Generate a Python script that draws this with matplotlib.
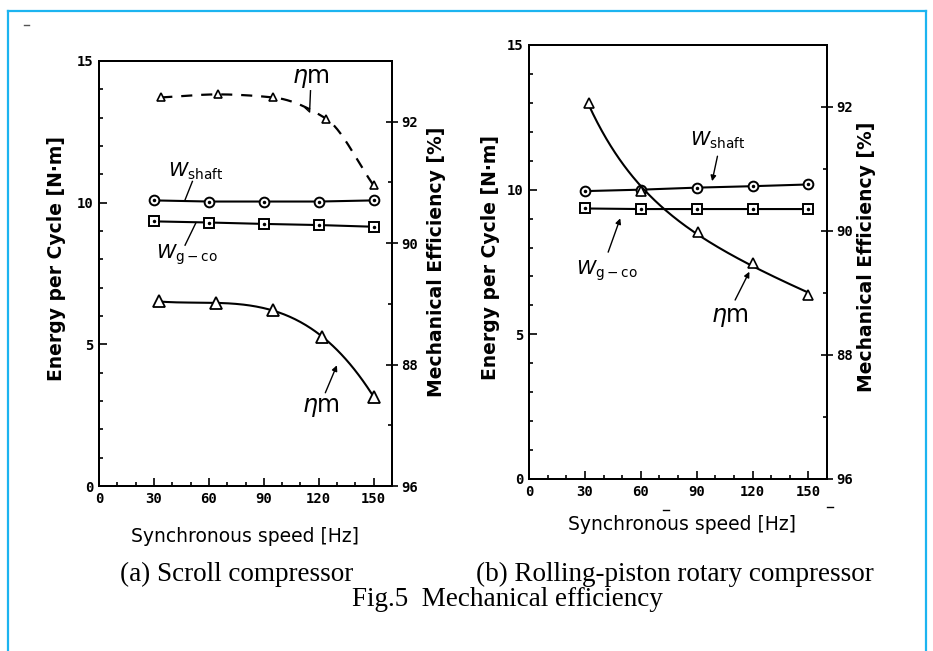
import numpy as np
import matplotlib
matplotlib.use("Agg")
import matplotlib.pyplot as plt
from matplotlib.lines import Line2D
from matplotlib.font_manager import FontProperties
from matplotlib.ticker import MultipleLocator, FixedLocator, FixedFormatter

# synchronous speed [Hz]
speed = [30, 60, 90, 120, 150]

# (a) scroll compressor
a_w_shaft = [10.08, 10.04, 10.04, 10.04, 10.08]
a_w_gco = [9.34, 9.30, 9.25, 9.21, 9.15]
a_eta_speed = [33, 64, 95, 122, 150]
a_eta = [89.04, 89.01, 88.90, 88.45, 87.47]
a_eta_dash_speed = [34, 65, 95, 124, 150]
a_eta_dash = [92.40, 92.45, 92.40, 92.05, 90.95]

# (b) rolling-piston rotary compressor
b_w_shaft = [9.95, 10.00, 10.07, 10.12, 10.18]
b_w_gco = [9.35, 9.33, 9.33, 9.33, 9.33]
b_eta_speed = [32, 60, 91, 120, 150]
b_eta = [92.06, 90.65, 89.98, 89.49, 88.96]

x_ticks = [0, 30, 60, 90, 120, 150]
eff_ticks = [86, 88, 90, 92]
eff_labels = ['96', '88', '90', '92']   # as printed in the scan

W, H = 933, 651
fig = plt.figure(figsize=(W / 100, H / 100), dpi=100)

tick_font = FontProperties(family='DejaVu Sans Mono', weight='bold', size=10)
lab_font = dict(family='DejaVu Sans', weight='bold', size=13.5)


def px(x, y):
    return x / W, 1 - y / H


def make_axes(x0, y0, x1, y1):
    ax = fig.add_axes([x0 / W, 1 - y1 / H, (x1 - x0) / W, (y1 - y0) / H])
    axr = ax.twinx()
    ax.set_xlim(0, 160)
    ax.set_ylim(0, 15)
    axr.set_ylim(86, 93)
    ax.xaxis.set_major_locator(FixedLocator(x_ticks))
    ax.xaxis.set_minor_locator(MultipleLocator(10))
    ax.yaxis.set_major_locator(MultipleLocator(5))
    ax.yaxis.set_minor_locator(MultipleLocator(1))
    axr.yaxis.set_major_locator(FixedLocator(eff_ticks))
    axr.yaxis.set_major_formatter(FixedFormatter(eff_labels))
    axr.yaxis.set_minor_locator(MultipleLocator(1))
    for a in (ax, axr):
        a.tick_params(which='both', direction='in', width=1.2, top=False)
        a.tick_params(which='major', length=6, pad=4)
        a.tick_params(which='minor', length=3)
        for s in a.spines.values():
            s.set_linewidth(1.4)
        for lbl in a.get_xticklabels() + a.get_yticklabels():
            lbl.set_fontproperties(tick_font)
    axr.tick_params(which='major', direction='inout', length=9, pad=2)
    ax.tick_params(axis='y', which='both', right=False)
    return ax, axr


def fitcurve(x, y, deg=3, n=200):
    # smooth drawn curve through the measured points
    xs = np.linspace(min(x), max(x), n)
    return xs, np.polyval(np.polyfit(x, y, deg), xs)


def decay_fit(x, y, tau=30.0, n=200):
    # convex smooth curve: a + b*x + c*exp(-x/tau), least squares
    x = np.asarray(x, float)
    A = np.column_stack([np.ones_like(x), x, np.exp(-x / tau)])
    coef = np.linalg.lstsq(A, np.asarray(y, float), rcond=None)[0]
    xs = np.linspace(x.min(), x.max(), n)
    return xs, coef[0] + coef[1] * xs + coef[2] * np.exp(-xs / tau)


def pchip(x, y, n=200):
    # monotone cubic through the measured points, only for drawing the curve
    x = np.asarray(x, float)
    y = np.asarray(y, float)
    h = np.diff(x)
    d = np.diff(y) / h
    m = np.zeros_like(y)
    m[0], m[-1] = d[0], d[-1]
    for k in range(1, len(x) - 1):
        if d[k - 1] * d[k] > 0:
            w1 = 2 * h[k] + h[k - 1]
            w2 = h[k] + 2 * h[k - 1]
            m[k] = (w1 + w2) / (w1 / d[k - 1] + w2 / d[k])
    xs = np.linspace(x[0], x[-1], n)
    i = np.clip(np.searchsorted(x, xs) - 1, 0, len(x) - 2)
    t = (xs - x[i]) / h[i]
    ys = ((2 * t**3 - 3 * t**2 + 1) * y[i] + (t**3 - 2 * t**2 + t) * h[i] * m[i]
          + (-2 * t**3 + 3 * t**2) * y[i + 1] + (t**3 - t**2) * h[i] * m[i + 1])
    return xs, ys


def energy_lines(ax, shaft, gco):
    ax.plot(speed, shaft, '-', color='black', lw=1.5, marker='o', ms=7,
            mfc='white', mec='black', mew=1.4, zorder=3)
    ax.plot(speed, shaft, '.', color='black', ms=3, zorder=4)
    ax.plot(speed, gco, '-', color='black', lw=1.5, marker='s', ms=7,
            mfc='white', mec='black', mew=1.4, zorder=3)
    ax.plot(speed, gco, '.', color='black', ms=3, zorder=4)


arrow = dict(arrowstyle='-|>', color='black', lw=1, mutation_scale=8)

# ---------- (a) scroll compressor ----------
ax, axr = make_axes(99, 61, 392, 486)
energy_lines(ax, a_w_shaft, a_w_gco)
xs, ys = fitcurve(a_eta_speed, a_eta)
axr.plot(xs, ys, '-', color='black', lw=1.5)
axr.plot(a_eta_speed, a_eta, '^', ms=8, mfc='white', mec='black', mew=1.3)
xs, ys = pchip(a_eta_dash_speed, a_eta_dash)
axr.plot(xs, ys, '--', color='black', lw=1.6, dashes=(5, 4))
axr.plot(a_eta_dash_speed, a_eta_dash, '^', ms=6, mfc='white', mec='black', mew=1.2)

ax.text(53, 11.1, r'$W_{\mathrm{shaft}}$', fontsize=14, ha='center', va='center')
ax.plot([51, 47], [10.75, 10.1], color='black', lw=1)
ax.text(48, 8.15, r'$W_{\mathrm{g-co}}$', fontsize=14, ha='center', va='center')
ax.plot([47, 53], [8.5, 9.3], color='black', lw=1)
ax.text(116, 14.4, r'$\eta\mathrm{m}$', fontsize=17, ha='center', va='center')
ax.plot([115.5, 115, 112.5], [13.95, 13.2, 13.35], color='black', lw=1)
ax.text(121, 2.8, r'$\eta\mathrm{m}$', fontsize=17, ha='center', va='center')
ax.annotate('', xy=(130.5, 4.35), xytext=(123, 3.2), arrowprops=arrow)

# ---------- (b) rolling-piston rotary compressor ----------
bx, bxr = make_axes(529, 45, 827, 479)
energy_lines(bx, b_w_shaft, b_w_gco)
xs, ys = decay_fit(b_eta_speed, b_eta)
bxr.plot(xs, ys, '-', color='black', lw=1.5)
bxr.plot(b_eta_speed, b_eta, '^', ms=7, mfc='white', mec='black', mew=1.2)

bx.text(101, 11.7, r'$W_{\mathrm{shaft}}$', fontsize=14, ha='center', va='center')
bx.annotate('', xy=(98, 10.2), xytext=(101.5, 11.25), arrowprops=arrow)
bx.text(42, 7.2, r'$W_{\mathrm{g-co}}$', fontsize=14, ha='center', va='center')
bx.annotate('', xy=(49.5, 9.1), xytext=(42, 7.75), arrowprops=arrow)
bx.text(108, 5.6, r'$\eta\mathrm{m}$', fontsize=17, ha='center', va='center')
bx.annotate('', xy=(119, 7.25), xytext=(110, 6.1), arrowprops=arrow)

# axis labels
for (x, y, t) in [(57, 258, 'Energy per Cycle [N·m]'),
                  (436, 262, 'Mechanical Efficiency [%]'),
                  (491, 257, 'Energy per Cycle [N·m]'),
                  (866, 257, 'Mechanical Efficiency [%]')]:
    fig.text(*px(x, y), t, rotation=90, ha='center', va='center', **lab_font)
fig.text(*px(245, 537), 'Synchronous speed [Hz]', ha='center', va='center',
         family='DejaVu Sans', size=13.5)
fig.text(*px(682, 525), 'Synchronous speed [Hz]', ha='center', va='center',
         family='DejaVu Sans', size=13.5)

# captions
cap = dict(family='Liberation Serif', size=19.5, va='center', ha='left')
fig.text(*px(120, 574), '(a) Scroll compressor', **cap)
fig.text(*px(476, 574), '(b) Rolling-piston rotary compressor', **cap)
fig.text(*px(352, 599), 'Fig.5  Mechanical efficiency', **cap)

# light blue page frame and scan marks
blue = '#1cb4f0'
fig.add_artist(Line2D([8 / W, 8 / W], [0, 1 - 11 / H], color=blue, lw=1.6))
fig.add_artist(Line2D([926 / W, 926 / W], [0, 1 - 11 / H], color=blue, lw=1.6))
fig.add_artist(Line2D([8 / W, 926 / W], [1 - 11 / H, 1 - 11 / H], color=blue, lw=1.6))
fig.add_artist(Line2D([24 / W, 29 / W], [1 - 25 / H, 1 - 25 / H], color='#555555', lw=1))
fig.add_artist(Line2D([663 / W, 669 / W], [1 - 510 / H, 1 - 510 / H], color='black', lw=1))
fig.add_artist(Line2D([827 / W, 833 / W], [1 - 507 / H, 1 - 507 / H], color='black', lw=1))

fig.savefig('out.png', dpi=100)
